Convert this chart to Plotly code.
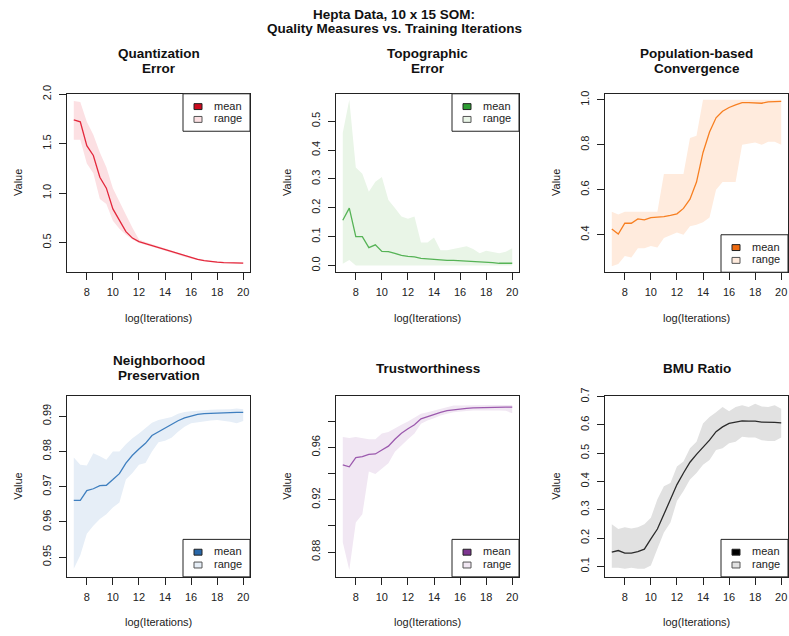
import plotly.graph_objects as go

W, H = 789, 636

iterations = [7, 7.5, 8, 8.5, 9, 9.5, 10, 10.5, 11, 11.5, 12, 12.5, 13, 13.5,
              14, 14.5, 15, 15.5, 16, 16.5, 17, 17.5, 18, 18.5, 19, 19.5, 20]

qe_mean = [1.74, 1.72, 1.48, 1.38, 1.16, 1.05, 0.84, 0.72, 0.61, 0.545, 0.51, 0.49, 0.47, 0.45,
           0.43, 0.41, 0.385, 0.365, 0.345, 0.33, 0.318, 0.308, 0.302, 0.298, 0.295, 0.293, 0.292]
qe_upper = [1.93, 1.92, 1.72, 1.59, 1.41, 1.26, 1.05, 0.91, 0.78, 0.65, 0.53, 0.505, 0.485, 0.465,
            0.445, 0.424, 0.398, 0.377, 0.356, 0.34, 0.327, 0.316, 0.31, 0.305, 0.302, 0.30, 0.298]
qe_lower = [1.54, 1.54, 1.30, 1.20, 0.94, 0.89, 0.72, 0.64, 0.58, 0.53, 0.495, 0.478, 0.458, 0.438,
            0.418, 0.398, 0.374, 0.355, 0.336, 0.322, 0.311, 0.302, 0.297, 0.293, 0.29, 0.288, 0.287]

te_mean = [0.157, 0.199, 0.10, 0.10, 0.062, 0.072, 0.049, 0.048, 0.042, 0.035, 0.032, 0.030, 0.025, 0.023,
           0.021, 0.019, 0.018, 0.018, 0.017, 0.016, 0.014, 0.012, 0.011, 0.010, 0.008, 0.008, 0.008]
te_upper = [0.46, 0.574, 0.34, 0.318, 0.256, 0.29, 0.307, 0.227, 0.199, 0.17, 0.162, 0.17, 0.08, 0.08,
            0.097, 0.053, 0.053, 0.057, 0.062, 0.067, 0.057, 0.043, 0.051, 0.048, 0.043, 0.048, 0.06]
te_lower = [0.006, 0.019, 0.0, 0.0, 0.0, 0.0, 0.0, 0.0, 0.0, 0.0, 0.0, 0.0, 0.0, 0.0,
            0.0, 0.0, 0.0, 0.0, 0.0, 0.0, 0.0, 0.0, 0.0, 0.0, 0.0, 0.0, 0.0]

pbc_mean = [0.425, 0.403, 0.451, 0.451, 0.47, 0.466, 0.476, 0.477, 0.48, 0.486, 0.493, 0.517, 0.558, 0.634,
            0.766, 0.857, 0.92, 0.949, 0.966, 0.978, 0.988, 0.988, 0.988, 0.985, 0.991, 0.991, 0.993]
pbc_upper = [0.502, 0.49, 0.502, 0.502, 0.502, 0.502, 0.502, 0.502, 0.67, 0.67, 0.67, 0.67, 0.83, 0.84,
             1.0, 1.0, 1.0, 1.0, 1.0, 1.0, 1.0, 1.0, 1.0, 1.0, 1.0, 1.0, 1.0]
pbc_lower = [0.26, 0.27, 0.305, 0.298, 0.34, 0.34, 0.35, 0.343, 0.385, 0.397, 0.41, 0.40, 0.437, 0.444,
             0.455, 0.476, 0.60, 0.634, 0.634, 0.634, 0.80, 0.805, 0.81, 0.80, 0.814, 0.814, 0.80]

np_mean = [0.9661, 0.9661, 0.9689, 0.9694, 0.9703, 0.9704, 0.972, 0.9737, 0.9767, 0.9789, 0.9807, 0.9823,
           0.9845, 0.9856, 0.9867, 0.9877, 0.9887, 0.9895, 0.9901, 0.9905, 0.9907, 0.9908, 0.991, 0.9911,
           0.9911, 0.9911, 0.9911]
np_upper = [0.9783, 0.9762, 0.976, 0.9795, 0.9786, 0.9776, 0.98, 0.98, 0.982, 0.9837, 0.9851, 0.9865,
            0.9881, 0.9889, 0.9893, 0.9898, 0.9907, 0.9912, 0.9914, 0.9916, 0.9917, 0.9918, 0.9919, 0.9919,
            0.992, 0.9922, 0.992]
np_lower = [0.9467, 0.9505, 0.9566, 0.9589, 0.9608, 0.9622, 0.9641, 0.9655, 0.972, 0.9739, 0.9762, 0.9767,
            0.98, 0.9826, 0.983, 0.9839, 0.9856, 0.987, 0.988, 0.9884, 0.9886, 0.9888, 0.9889, 0.9887,
            0.9884, 0.988, 0.9886]

tw_mean = [0.9467, 0.9452, 0.9522, 0.953, 0.9547, 0.955, 0.958, 0.961, 0.9663, 0.9708, 0.9743, 0.9774,
           0.9819, 0.9836, 0.9854, 0.9869, 0.9882, 0.9889, 0.9894, 0.9899, 0.9902, 0.9904, 0.9907, 0.9908,
           0.9908, 0.9909, 0.9909]
tw_upper = [0.968, 0.9673, 0.968, 0.9673, 0.9663, 0.9663, 0.9706, 0.9718, 0.9748, 0.9774, 0.9799, 0.9831,
            0.9857, 0.9869, 0.9882, 0.9894, 0.9912, 0.992, 0.992, 0.9922, 0.9923, 0.9924, 0.9924, 0.9925,
            0.9925, 0.9925, 0.9925]
tw_lower = [0.8875, 0.8662, 0.9026, 0.9089, 0.9416, 0.9396, 0.9441, 0.9479, 0.9567, 0.9617, 0.9663, 0.9706,
            0.9781, 0.9806, 0.9824, 0.9844, 0.9857, 0.9869, 0.9874, 0.9879, 0.9882, 0.9884, 0.9884, 0.9884,
            0.9883, 0.9880, 0.9862]

bmu_mean = [0.150, 0.156, 0.147, 0.147, 0.152, 0.161, 0.197, 0.232, 0.284, 0.337, 0.389, 0.430, 0.468, 0.496,
            0.521, 0.546, 0.576, 0.593, 0.605, 0.610, 0.614, 0.613, 0.613, 0.610, 0.610, 0.609, 0.607]
bmu_upper = [0.249, 0.232, 0.238, 0.234, 0.238, 0.249, 0.272, 0.337, 0.383, 0.395, 0.453, 0.471, 0.517, 0.540,
             0.605, 0.628, 0.645, 0.663, 0.648, 0.663, 0.669, 0.663, 0.675, 0.665, 0.663, 0.669, 0.657]
bmu_lower = [0.095, 0.095, 0.092, 0.095, 0.092, 0.092, 0.103, 0.162, 0.220, 0.255, 0.331, 0.366, 0.407, 0.430,
             0.459, 0.476, 0.511, 0.517, 0.535, 0.540, 0.558, 0.555, 0.555, 0.546, 0.543, 0.543, 0.555]

x_ticks = [8, 10, 12, 14, 16, 18, 20]

panels = [
    dict(title=["Quantization", "Error"], mean=qe_mean, lo=qe_lower, hi=qe_upper,
         line="#E3283C", sq="#CC0A1E", fill="#FCE0E3", yr=[0.2, 2.004],
         yt=[0.5, 1.0, 1.5, 2.0], ytt=["0.5", "1.0", "1.5", "2.0"], leg="tr"),
    dict(title=["Topographic", "Error"], mean=te_mean, lo=te_lower, hi=te_upper,
         line="#56B356", sq="#2E9E33", fill="#E9F5E7", yr=[-0.023, 0.595],
         yt=[0.0, 0.1, 0.2, 0.3, 0.4, 0.5], ytt=["0.0", "0.1", "0.2", "0.3", "0.4", "0.5"], leg="tr"),
    dict(title=["Population-based", "Convergence"], mean=pbc_mean, lo=pbc_lower, hi=pbc_upper,
         line="#F77F21", sq="#EE6A10", fill="#FFEBDD", yr=[0.233, 1.027],
         yt=[0.4, 0.6, 0.8, 1.0], ytt=["0.4", "0.6", "0.8", "1.0"], leg="br"),
    dict(title=["Neighborhood", "Preservation"], mean=np_mean, lo=np_lower, hi=np_upper,
         line="#3F7FBF", sq="#2867A8", fill="#E6EEF7", yr=[0.9444, 0.9956],
         yt=[0.95, 0.96, 0.97, 0.98, 0.99], ytt=["0.95", "0.96", "0.97", "0.98", "0.99"], leg="br"),
    dict(title=["Trustworthiness"], mean=tw_mean, lo=tw_lower, hi=tw_upper,
         line="#9C5AAE", sq="#7D3590", fill="#F1E7F3", yr=[0.861, 0.999],
         yt=[0.88, 0.90, 0.92, 0.94, 0.96, 0.98], ytt=["0.88", "", "0.92", "", "0.96", ""], leg="br"),
    dict(title=["BMU Ratio"], mean=bmu_mean, lo=bmu_lower, hi=bmu_upper,
         line="#2B2B2B", sq="#000000", fill="#E1E1E1", yr=[0.063, 0.7005],
         yt=[0.1, 0.2, 0.3, 0.4, 0.5, 0.6, 0.7], ytt=["0.1", "0.2", "0.3", "0.4", "0.5", "0.6", "0.7"], leg="br"),
]

col_px = [(67, 250), (336, 519), (605, 788)]
row_px = [(86, 267), (393, 576)]
title_rows = {0: (45, 60, 52.5), 1: (357, 372, 364.5)}


def px_x(p):
    return p / W


def px_y(p):
    return 1 - p / H


FONT = "Liberation Sans, Arial, Helvetica, sans-serif"
TXT = "#222222"

fig = go.Figure()
shapes = []
annotations = []
layout_axes = {}

for i, p in enumerate(panels):
    r, c = divmod(i, 3)
    x0, x1 = col_px[c]
    y0, y1 = row_px[r]
    n = i + 1
    xa = "x" if n == 1 else f"x{n}"
    ya = "y" if n == 1 else f"y{n}"

    fig.add_trace(go.Scatter(
        x=iterations + iterations[::-1], y=p["hi"] + p["lo"][::-1],
        fill="toself", fillcolor=p["fill"], line=dict(width=0, color=p["fill"]),
        mode="lines", hoverinfo="skip", showlegend=False, xaxis=xa, yaxis=ya))
    fig.add_trace(go.Scatter(
        x=iterations, y=p["mean"], mode="lines",
        line=dict(color=p["line"], width=1.3), showlegend=False, xaxis=xa, yaxis=ya))

    axis_common = dict(showline=True, linecolor="#222222", linewidth=1, mirror=True,
                       ticks="outside", ticklen=7, tickwidth=1, tickcolor="#222222",
                       showgrid=False, zeroline=False,
                       tickfont=dict(family=FONT, size=11, color=TXT))
    layout_axes[f"xaxis{n}"] = dict(axis_common, domain=[px_x(x0), px_x(x1)], anchor=ya,
                                    range=[6.48, 20.52], tickvals=x_ticks,
                                    ticktext=[str(t) for t in x_ticks], ticklabelstandoff=3)
    layout_axes[f"yaxis{n}"] = dict(axis_common, domain=[px_y(y1), px_y(y0)], anchor=xa,
                                    range=p["yr"], tickvals=p["yt"], ticktext=p["ytt"],
                                    tickangle=-90, ticklabelstandoff=4)

    cx = (x0 + x1) / 2
    cy = (y0 + y1) / 2
    # panel titles
    t1, t2, tm = title_rows[r]
    if len(p["title"]) == 2:
        for line_txt, ty in zip(p["title"], (t1, t2)):
            annotations.append(dict(text=f"<b>{line_txt}</b>", x=px_x(cx), y=px_y(ty),
                                    xref="paper", yref="paper", showarrow=False,
                                    xanchor="center", yanchor="middle",
                                    font=dict(family=FONT, size=13.5, color="#111111")))
    else:
        annotations.append(dict(text=f"<b>{p['title'][0]}</b>", x=px_x(cx), y=px_y(tm),
                                xref="paper", yref="paper", showarrow=False,
                                xanchor="center", yanchor="middle",
                                font=dict(family=FONT, size=13.5, color="#111111")))
    # axis titles
    annotations.append(dict(text="log(Iterations)", x=px_x(cx), y=px_y(y1 + 46),
                            xref="paper", yref="paper", showarrow=False,
                            xanchor="center", yanchor="middle",
                            font=dict(family=FONT, size=11, color=TXT)))
    annotations.append(dict(text="Value", x=px_x(x0 - 49), y=px_y(cy),
                            xref="paper", yref="paper", showarrow=False, textangle=-90,
                            xanchor="center", yanchor="middle",
                            font=dict(family=FONT, size=11, color=TXT)))

    # legend box
    lw, lh = 67, 38
    lx1 = x1
    lx0 = x1 - lw
    if p["leg"] == "tr":
        ly0 = y0
    else:
        ly0 = y1 - lh
    ly1 = ly0 + lh
    shapes.append(dict(type="rect", xref="paper", yref="paper",
                       x0=px_x(lx0), x1=px_x(lx1), y0=px_y(ly1), y1=px_y(ly0),
                       line=dict(color="#222222", width=1), fillcolor="white", layer="above"))
    for k, (lab, col, bcol) in enumerate([("mean", p["sq"], "#222222"), ("range", p["fill"], "#555555")]):
        sy = ly0 + 13 + 13 * k
        shapes.append(dict(type="rect", xref="paper", yref="paper",
                           x0=px_x(lx0 + 11), x1=px_x(lx0 + 19), y0=px_y(sy + 3), y1=px_y(sy - 3),
                           line=dict(color=bcol, width=1), fillcolor=col, layer="above"))
        annotations.append(dict(text=lab, x=px_x(lx0 + 29), y=px_y(sy - 1),
                                xref="paper", yref="paper", showarrow=False,
                                xanchor="left", yanchor="middle",
                                font=dict(family=FONT, size=11, color=TXT)))

# main title
for line_txt, ty in [("Hepta Data, 10 x 15 SOM:", 5.5), ("Quality Measures vs. Training Iterations", 20)]:
    annotations.append(dict(text=f"<b>{line_txt}</b>", x=px_x(394), y=px_y(ty),
                            xref="paper", yref="paper", showarrow=False,
                            xanchor="center", yanchor="middle",
                            font=dict(family=FONT, size=13.5, color="#111111")))

fig.update_layout(
    width=W, height=H, margin=dict(l=0, r=0, t=0, b=0),
    paper_bgcolor="white", plot_bgcolor="white", showlegend=False,
    shapes=shapes, annotations=annotations, **layout_axes)

fig.write_html("out.html", config={"displayModeBar": False},
               post_script="document.body.style.margin='0';document.body.style.overflow='hidden';")
